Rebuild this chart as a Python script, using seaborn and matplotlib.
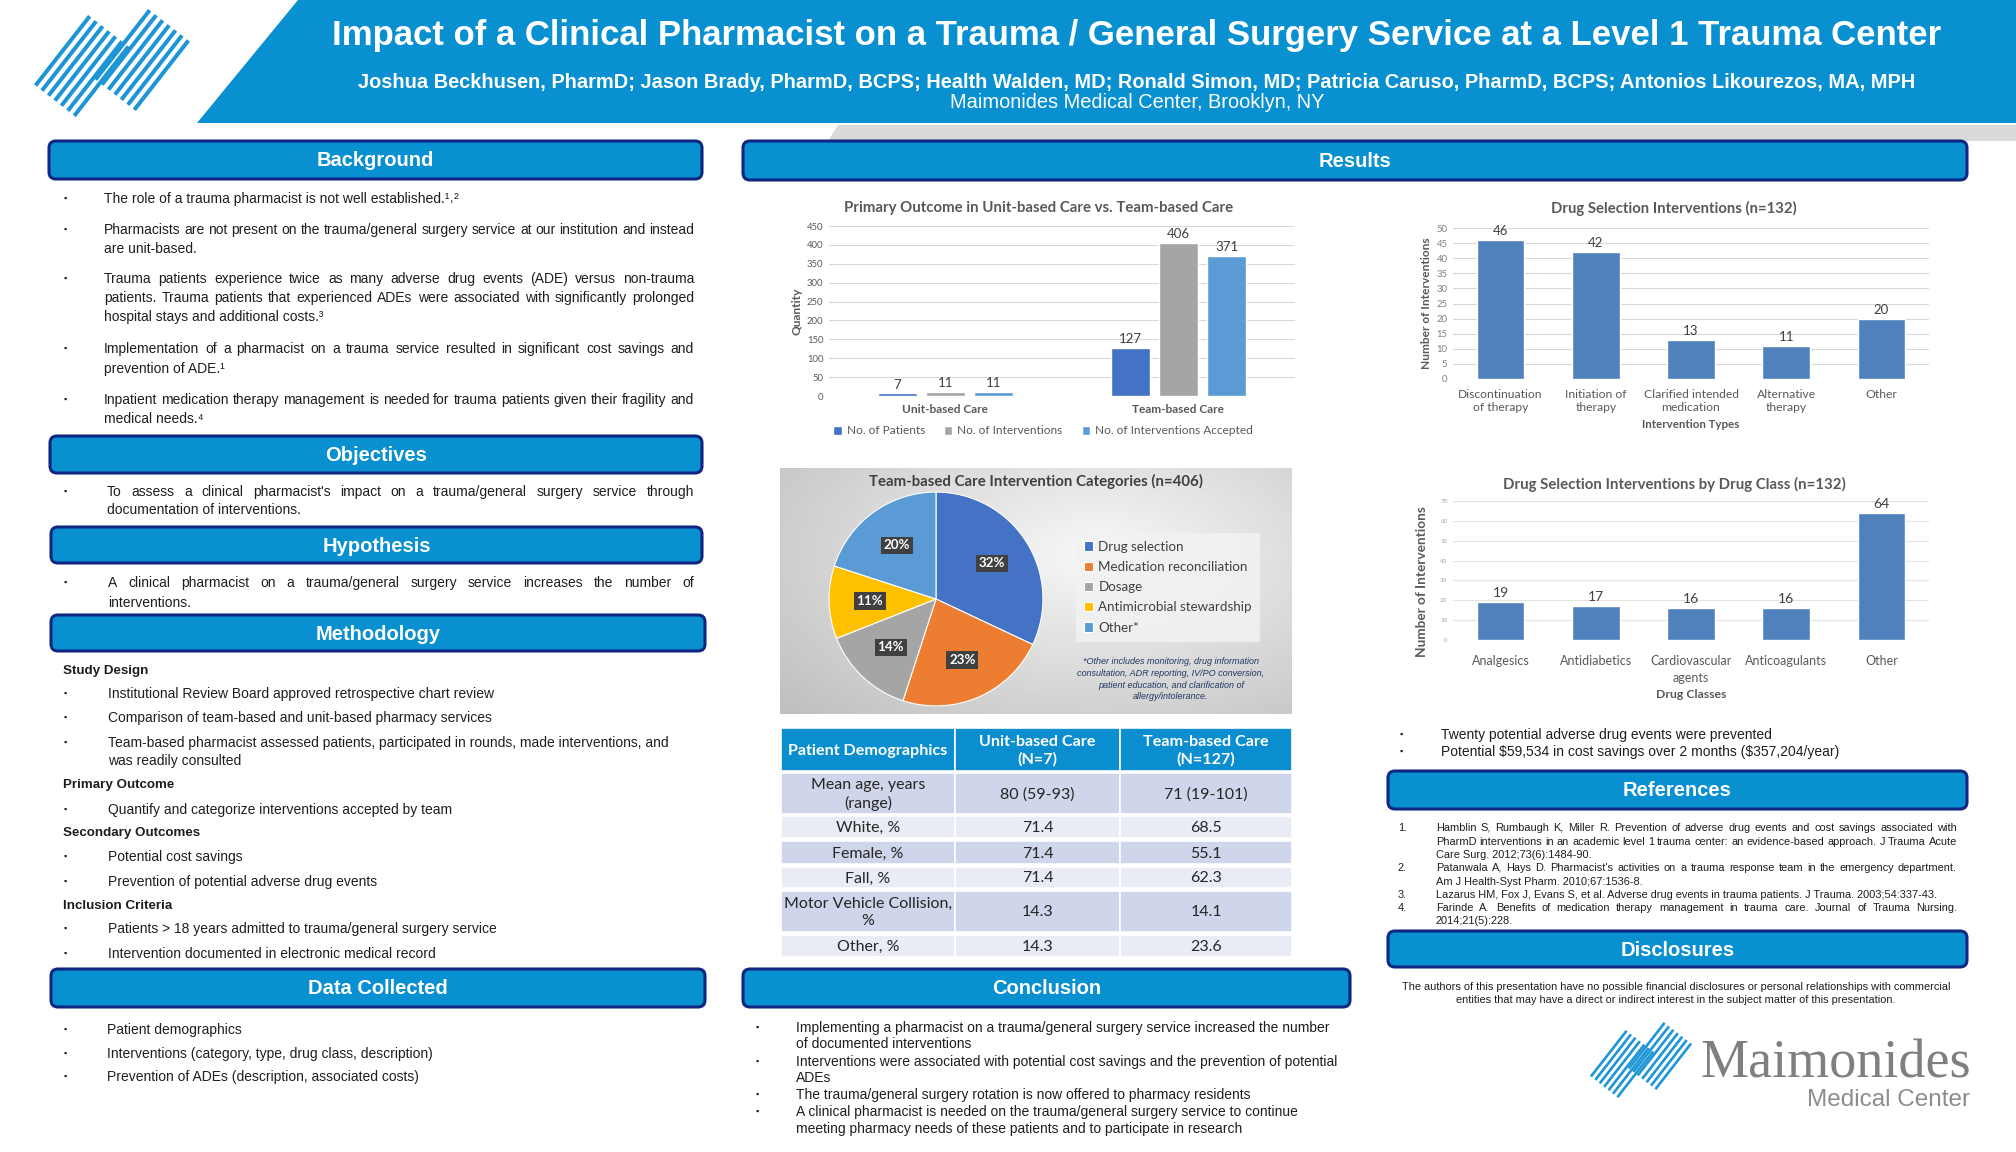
import numpy as np
import pandas as pd
import matplotlib
matplotlib.use("Agg")
import matplotlib.pyplot as plt
import seaborn as sns
from matplotlib.patches import FancyBboxPatch, Rectangle, Polygon
from matplotlib.font_manager import FontProperties

# ---------------- data ----------------
primary_groups = ["Unit-based Care", "Team-based Care"]
primary_measures = ["No. of Patients", "No. of Interventions", "No. of Interventions Accepted"]
primary_unit = [7, 11, 11]
primary_team = [127, 406, 371]
primary_colors = ["#4472C4", "#A5A5A5", "#5B9BD5"]

selection_types = ["Discontinuation\nof therapy", "Initiation of\ntherapy",
                   "Clarified intended\nmedication", "Alternative\ntherapy", "Other"]
selection_counts = [46, 42, 13, 11, 20]

class_names = ["Analgesics", "Antidiabetics", "Cardiovascular\nagents", "Anticoagulants", "Other"]
class_counts = [19, 17, 16, 16, 64]

pie_categories = ["Drug selection", "Medication reconciliation", "Dosage",
                  "Antimicrobial stewardship", "Other*"]
pie_percent = [32, 23, 14, 11, 20]
pie_colors = ["#4472C4", "#ED7D31", "#A5A5A5", "#FFC000", "#5B9BD5"]

demo_header = ["Patient Demographics", "Unit-based Care\n(N=7)", "Team-based Care\n(N=127)"]
demo_rows = ["Mean age, years\n(range)", "White, %", "Female, %", "Fall, %",
             "Motor Vehicle Collision,\n%", "Other, %"]
demo_unit = ["80 (59-93)", "71.4", "71.4", "71.4", "14.3", "14.3"]
demo_team = ["71 (19-101)", "68.5", "55.1", "62.3", "14.1", "23.6"]

# ---------------- setup ----------------
W, H = 2016, 1152
sns.set_theme(style="white")
SANS = ["Liberation Sans", "DejaVu Sans"]
CAL = ["Lato", "DejaVu Sans"]
plt.rcParams["font.family"] = SANS
BLUE = "#0890D0"
NAVY = "#0E2682"
TXT = "#1E1E1E"
GREY_T = "#595959"
BODY = 10

fig = plt.figure(figsize=(W / 100, H / 100), dpi=100, facecolor="white")
bg = fig.add_axes([0, 0, 1, 1])
bg.set_xlim(0, W)
bg.set_ylim(H, 0)
bg.axis("off")
renderer = fig.canvas.get_renderer()


def add_ax(x0, y0, x1, y1):
    return fig.add_axes([x0 / W, 1 - y1 / H, (x1 - x0) / W, (y1 - y0) / H])


def put(x, yc, s, size=BODY, weight="normal", style="normal", color=TXT, x_right=None,
        family=None, ha="left"):
    fp = FontProperties(family=family or SANS, size=size, weight=weight, style=style)
    yb = yc + size * 0.46
    if x_right is None:
        bg.text(x, yb, s, fontproperties=fp, color=color, ha=ha, va="baseline",
                parse_math=False)
        return
    words = s.split(" ")
    widths = [renderer.get_text_width_height_descent(w, fp, ismath=False)[0] for w in words]
    gap = (x_right - x - sum(widths)) / max(len(words) - 1, 1)
    gap = max(gap, size * 0.18)
    cx = x
    for w, ww in zip(words, widths):
        bg.text(cx, yb, w, fontproperties=fp, color=color, ha="left", va="baseline",
                parse_math=False)
        cx += ww + gap


def bullet(x, yc, size=BODY):
    put(x, yc, "\u25aa", size=size * 0.65, color=TXT)


def section(x0, y0, x1, y1, label):
    bg.add_patch(FancyBboxPatch((x0, y0), x1 - x0, y1 - y0,
                                boxstyle="round,pad=0,rounding_size=7",
                                fc=BLUE, ec=NAVY, lw=2.2, zorder=3))
    bg.text((x0 + x1) / 2, (y0 + y1) / 2 + 1, label, ha="center", va="center",
            color="white", fontsize=14.5, fontweight="bold", zorder=4)


def draw_logo(centers, L, sp, n, lw, color):
    ang = np.deg2rad(52)
    d = np.array([np.cos(ang), -np.sin(ang)])
    nv = np.array([np.sin(ang), np.cos(ang)])
    for (cx, cy) in centers:
        for k in range(n):
            c = np.array([cx, cy]) + (k - (n - 1) / 2) * sp * nv
            p1, p2 = c - d * L / 2, c + d * L / 2
            bg.plot([p1[0], p2[0]], [p1[1], p2[1]], color=color, lw=lw,
                    solid_capstyle="butt", zorder=5)


# ---------------- header ----------------
bg.add_patch(Polygon([(298, 0), (W, 0), (W, 123), (197, 123)], closed=True, fc=BLUE, ec="none"))
bg.add_patch(Polygon([(838, 125), (W, 125), (W, 141), (828, 141)], closed=True,
                     fc="#DADADA", ec="none"))
draw_logo([(82, 66), (142, 60)], 88, 8.2, 7, 2.9, "#1E96D6")

bg.text(1137, 35, "Impact of a Clinical Pharmacist on a Trauma / General Surgery Service at a Level 1 Trauma Center",
        ha="center", va="center", color="white", fontsize=25, fontweight="bold")
bg.text(1137, 82, "Joshua Beckhusen, PharmD; Jason Brady, PharmD, BCPS; Health Walden, MD; Ronald Simon, MD; "
        "Patricia Caruso, PharmD, BCPS; Antonios Likourezos, MA, MPH",
        ha="center", va="center", color="white", fontsize=14.4, fontweight="bold")
bg.text(1137, 103, "Maimonides Medical Center, Brooklyn, NY", ha="center", va="center",
        color="white", fontsize=14.4)

# ---------------- left column ----------------
LX0, LX1 = 49, 702
TX, TR, BX = 104, 694, 64
section(LX0, 141, LX1, 179, "Background")
bg_lines = [
    (198, "The role of a trauma pharmacist is not well established.\u00b9\u02d2\u00b2", False, True),
    (229, "Pharmacists are not present on the trauma/general surgery service at our institution and instead", True, True),
    (248, "are unit-based.", False, False),
    (278, "Trauma patients experience twice as many adverse drug events (ADE) versus non-trauma", True, True),
    (297, "patients. Trauma patients that experienced ADEs were associated with significantly prolonged", True, False),
    (316, "hospital stays and additional costs.\u00b3", False, False),
    (348, "Implementation of a pharmacist on a trauma service resulted in significant cost savings and", True, True),
    (368, "prevention of ADE.\u00b9", False, False),
    (399, "Inpatient medication therapy management is needed for trauma patients given their fragility and", True, True),
    (418, "medical needs.\u2074", False, False),
]
for y, s, just, b in bg_lines:
    if b:
        bullet(BX, y)
    put(TX, y, s, x_right=TR if just else None)

section(LX0 + 1, 436, LX1, 473, "Objectives")
bullet(BX, 491)
put(107, 491, "To assess a clinical pharmacist's impact on a trauma/general surgery service through", x_right=TR)
put(107, 509, "documentation of interventions.")

section(LX0 + 2, 527, LX1, 563, "Hypothesis")
bullet(BX, 582)
put(108, 582, "A clinical pharmacist on a trauma/general surgery service increases the number of", x_right=TR)
put(108, 602, "interventions.")

section(LX0 + 2, 615, LX1 + 3, 651, "Methodology")
meth = [
    (670, "Study Design", "h"),
    (693, "Institutional Review Board approved retrospective chart review", "b"),
    (717, "Comparison of team-based and unit-based pharmacy services", "b"),
    (742, "Team-based pharmacist assessed patients, participated in rounds, made interventions, and", "b"),
    (760, "was readily consulted", "c"),
    (784, "Primary Outcome", "h"),
    (809, "Quantify and categorize interventions accepted by team", "b"),
    (832, "Secondary Outcomes", "h"),
    (856, "Potential cost savings", "b"),
    (881, "Prevention of potential adverse drug events", "b"),
    (905, "Inclusion Criteria", "h"),
    (928, "Patients > 18 years admitted to trauma/general surgery service", "b"),
    (953, "Intervention documented in electronic medical record", "b"),
]
for y, s, k in meth:
    if k == "h":
        put(63, y, s, weight="bold", size=9.6)
    else:
        if k == "b":
            bullet(BX, y)
        put(108, y, s)

section(LX0 + 2, 969, LX1 + 3, 1007, "Data Collected")
for y, s in [(1029, "Patient demographics"),
             (1053, "Interventions (category, type, drug class, description)"),
             (1076, "Prevention of ADEs (description, associated costs)")]:
    bullet(BX, y)
    put(107, y, s)

# ---------------- middle / right ----------------
section(743, 141, 1967, 180, "Results")

# Primary outcome chart
ax1 = add_ax(829, 226, 1295, 396)
df1 = pd.DataFrame({
    "care": np.repeat(primary_groups, len(primary_measures)),
    "measure": primary_measures * 2,
    "value": primary_unit + primary_team,
})
sns.barplot(data=df1, x="care", y="value", hue="measure", palette=primary_colors,
            saturation=1, width=0.62, gap=0.2, ax=ax1)
for c in ax1.containers:
    ax1.bar_label(c, fontsize=9.5, color="#404040", padding=2, family=CAL)
ax1.set_ylim(0, 450)
ax1.set_yticks(range(0, 451, 50))
ax1.yaxis.grid(True, color="#D9D9D9", lw=0.8)
ax1.set_axisbelow(True)
sns.despine(ax=ax1, left=True, bottom=True)
ax1.tick_params(axis="y", labelsize=6.8, labelcolor=GREY_T, length=0, pad=4)
ax1.tick_params(axis="x", labelsize=8.6, labelcolor=GREY_T, length=0, pad=6)
for t in ax1.get_xticklabels():
    t.set_fontweight("bold")
    t.set_family(CAL)
for t in ax1.get_yticklabels():
    t.set_family(CAL)
ax1.set_xlabel("")
ax1.set_ylabel("Quantity", fontsize=8.6, fontweight="bold", color=GREY_T, family=CAL, labelpad=3)
ax1.set_facecolor("none")
ax1.legend(loc="center", bbox_to_anchor=(1043 / W, 1 - 431 / H), bbox_transform=fig.transFigure,
           ncol=3, frameon=False, prop=FontProperties(family=CAL, size=8.6),
           handlelength=0.7, handleheight=0.7, handletextpad=0.4, columnspacing=1.6,
           labelcolor=GREY_T)
bg.text(1039, 208, "Primary Outcome in Unit-based Care vs. Team-based Care", ha="center", va="center",
        fontsize=10.8, fontweight="bold", color=GREY_T, family=CAL)

# Drug selection interventions
ax2 = add_ax(1453, 228, 1929, 379)
df2 = pd.DataFrame({"type": selection_types, "count": selection_counts})
sns.barplot(data=df2, x="type", y="count", color="#4F81BD", saturation=1, width=0.5, ax=ax2)
for c in ax2.containers:
    ax2.bar_label(c, fontsize=9.5, color="#404040", padding=2, family=CAL)
ax2.set_ylim(0, 50)
ax2.set_yticks(range(0, 51, 5))
ax2.yaxis.grid(True, color="#D9D9D9", lw=0.8)
ax2.set_axisbelow(True)
sns.despine(ax=ax2, left=True, bottom=True)
ax2.tick_params(axis="y", labelsize=6.8, labelcolor="#7F7F7F", length=0, pad=4)
ax2.tick_params(axis="x", labelsize=8.7, labelcolor=GREY_T, length=0, pad=7)
for t in ax2.get_xticklabels() + ax2.get_yticklabels():
    t.set_family(CAL)
for t in ax2.get_xticklabels():
    t.set_linespacing(1.2)
ax2.set_xlabel("Intervention Types", fontsize=8.3, fontweight="bold", color=GREY_T, family=CAL, labelpad=5)
ax2.set_ylabel("Number of Interventions", fontsize=8.6, fontweight="bold", color=GREY_T, family=CAL, labelpad=3)
ax2.set_facecolor("none")
bg.text(1674, 208, "Drug Selection Interventions (n=132)", ha="center", va="center",
        fontsize=10.7, fontweight="bold", color=GREY_T, family=CAL)

# Drug class chart
ax3 = add_ax(1453, 501, 1929, 640)
df3 = pd.DataFrame({"cls": class_names, "count": class_counts})
sns.barplot(data=df3, x="cls", y="count", color="#4F81BD", saturation=1, width=0.5, ax=ax3)
for c in ax3.containers:
    ax3.bar_label(c, fontsize=10, color="#404040", padding=2, family=CAL)
ax3.set_ylim(0, 70)
ax3.set_yticks(range(0, 71, 10))
ax3.yaxis.grid(True, color="#E3E3E3", lw=0.8)
ax3.set_axisbelow(True)
sns.despine(ax=ax3, left=True, bottom=True)
ax3.tick_params(axis="y", labelsize=4.5, labelcolor="#A6A6A6", length=0, pad=4)
ax3.tick_params(axis="x", labelsize=9, labelcolor=GREY_T, length=0, pad=11)
for t in ax3.get_xticklabels() + ax3.get_yticklabels():
    t.set_family(CAL)
for t in ax3.get_xticklabels():
    t.set_linespacing(1.45)
ax3.set_xlabel("Drug Classes", fontsize=8.8, fontweight="bold", color=GREY_T, family=CAL, labelpad=4)
ax3.set_ylabel("Number of Interventions", fontsize=9.8, fontweight="bold", color=GREY_T, family=CAL)
ax3.yaxis.set_label_coords(-0.052, 0.42)
ax3.set_facecolor("none")
bg.text(1674, 484, "Drug Selection Interventions by Drug Class (n=132)", ha="center", va="center",
        fontsize=10.8, fontweight="bold", color=GREY_T, family=CAL)

# Pie panel background gradient
yy, xx = np.mgrid[0:1:160j, 0:1:320j]
rr = np.sqrt(((xx - 0.62) / 0.75) ** 2 + ((yy - 0.35) / 0.85) ** 2)
img = 0.97 - 0.2 * np.clip(rr, 0, 1.2)
bg.imshow(img, extent=(780, 1292, 714, 468), cmap="gray", vmin=0, vmax=1, aspect="auto",
          interpolation="bilinear", zorder=1)
bg.set_xlim(0, W)
bg.set_ylim(H, 0)
bg.text(1036, 481, "Team-based Care Intervention Categories (n=406)", ha="center", va="center",
        fontsize=10.8, fontweight="bold", color="#404040", family=CAL, zorder=3)

axp = add_ax(828, 491, 1044, 707)
wedges, _, autotexts = axp.pie(pie_percent, colors=pie_colors, startangle=90, counterclock=False,
                               autopct="%d%%", pctdistance=0.62,
                               wedgeprops=dict(edgecolor="white", linewidth=0.8))
axp.set_xlim(-1.01, 1.01)
axp.set_ylim(-1.01, 1.01)
for t in autotexts:
    t.set_color("white")
    t.set_fontweight("bold")
    t.set_fontsize(9.6)
    t.set_family(CAL)
    t.set_bbox(dict(boxstyle="square,pad=0.2", fc="#404040", ec="none"))
axp.set_facecolor("none")
axp.legend(wedges, pie_categories, loc="upper left", bbox_to_anchor=(1069 / W, 1 - 526 / H),
           bbox_transform=fig.transFigure, frameon=True, fancybox=False, facecolor="#F2F2F2",
           edgecolor="none", framealpha=0.85, prop=FontProperties(family=CAL, size=9.6),
           handlelength=0.7, handleheight=0.7, handletextpad=0.4, labelspacing=0.62,
           borderpad=0.6, labelcolor="#404040")
for i, s in enumerate(["*Other includes monitoring, drug information",
                       "consultation, ADR reporting, IV/PO conversion,",
                       "patient education, and clarification of",
                       "allergy/intolerance."]):
    bg.text(1171, 662 + i * 11.5, s, ha="center", va="center", fontsize=6.5, style="italic",
            color="#1F3864", zorder=3)

# Demographics table
cols = [781, 955, 1120, 1292]
rows = [(728, 771), (773, 814), (816, 838), (841, 864), (867, 888), (891, 932), (935, 957)]
table = [demo_header] + [[a, b, c] for a, b, c in zip(demo_rows, demo_unit, demo_team)]
for r, (y0, y1) in enumerate(rows):
    if r == 0:
        fc = "#0A8ED0"
    else:
        fc = "#CFD5EA" if r % 2 == 1 else "#E9EBF5"
    for c in range(3):
        x0, x1 = cols[c], cols[c + 1]
        bg.add_patch(Rectangle((x0, y0), x1 - x0, y1 - y0, fc=fc, ec="white", lw=1.2, zorder=2))
        bg.text((x0 + x1) / 2, (y0 + y1) / 2 + 1, table[r][c], ha="center", va="center",
                fontsize=11.5 if r else 11.6, fontweight="bold" if r == 0 else "normal",
                color="white" if r == 0 else "#262626", family=CAL, linespacing=1.3, zorder=3)

# result bullets
for y, s in [(734, "Twenty potential adverse drug events were prevented"),
             (751, "Potential $59,534 in cost savings over 2 months ($357,204/year)")]:
    bullet(1399, y)
    put(1441, y, s)

# Conclusion
section(743, 969, 1350, 1007, "Conclusion")
concl = [
    (1027, "Implementing a pharmacist on a trauma/general surgery service increased the number", True),
    (1043, "of documented interventions", False),
    (1061, "Interventions were associated with potential cost savings and the prevention of potential", True),
    (1077, "ADEs", False),
    (1094, "The trauma/general surgery rotation is now offered to pharmacy residents", True),
    (1111, "A clinical pharmacist is needed on the trauma/general surgery service to continue", True),
    (1128, "meeting pharmacy needs of these patients and to participate in research", False),
]
for y, s, b in concl:
    if b:
        bullet(755, y)
    put(796, y, s)

# References
RS = 7.9
section(1388, 771, 1967, 809, "References")
refs = [
    (827, "1.", "Hamblin S, Rumbaugh K, Miller R. Prevention of adverse drug events and cost savings associated with", True),
    (841, None, "PharmD interventions in an academic level 1 trauma center: an evidence-based approach. J Trauma Acute", True),
    (854, None, "Care Surg. 2012;73(6):1484-90.", False),
    (867, "2.", "Patanwala A, Hays D. Pharmacist's activities on a trauma response team in the emergency department.", True),
    (881, None, "Am J Health-Syst Pharm. 2010;67:1536-8.", False),
    (894, "3.", "Lazarus HM, Fox J, Evans S, et al. Adverse drug events in trauma patients. J Trauma. 2003;54:337-43.", False),
    (907, "4.", "Farinde A. Benefits of medication therapy management in trauma care. Journal of Trauma Nursing.", True),
    (920, None, "2014;21(5):228.", False),
]
for y, num, s, just in refs:
    if num:
        put(1398, y, num, size=RS)
    put(1436, y, s, size=RS, x_right=1957 if just else None)

# Disclosures
section(1388, 931, 1967, 967, "Disclosures")
put(1676, 986, "The authors of this presentation have no possible financial disclosures or personal relationships with commercial",
    size=RS, ha="center")
put(1676, 999, "entities that may have a direct or indirect interest in the subject matter of this presentation.",
    size=RS, ha="center")

# bottom-right logo
draw_logo([(1622, 1064), (1660, 1056)], 58, 5.6, 7, 1.9, "#1E96D6")
bg.text(1700, 1078, "Maimonides", ha="left", va="baseline", fontsize=39, color="#7F7F7F",
        family=["Liberation Serif", "DejaVu Serif"])
bg.text(1970, 1106, "Medical Center", ha="right", va="baseline", fontsize=17.5, color="#8C8C8C")

fig.savefig("out.png", dpi=100, facecolor="white")
